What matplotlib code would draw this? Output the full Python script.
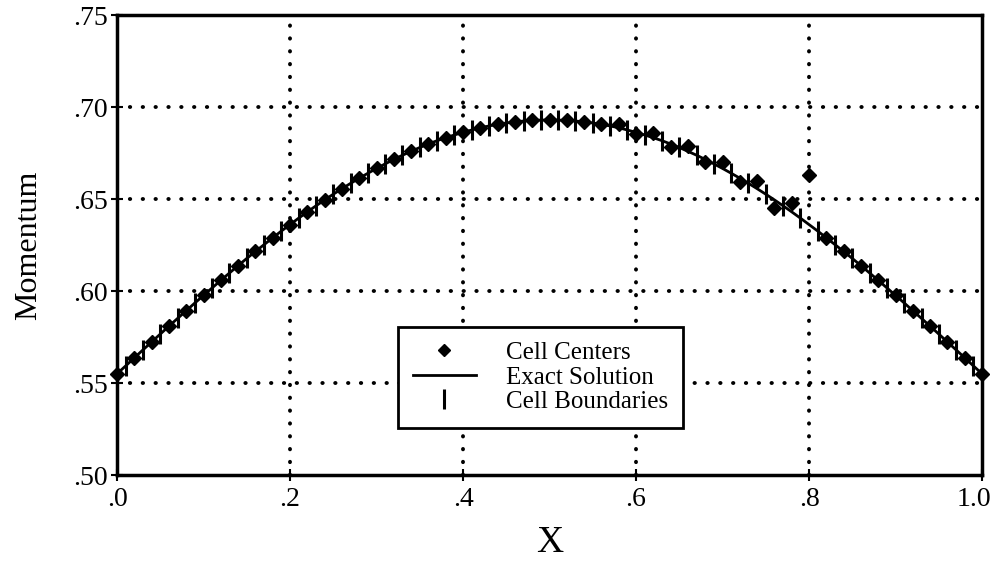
import numpy as np
import matplotlib.pyplot as plt
from matplotlib.transforms import offset_copy

plt.rcParams['font.family'] = ['Liberation Serif', 'DejaVu Serif']

# Exact solution sampled every 0.01 in x
x_exact = np.linspace(0.0, 1.0, 101)
u_exact = [0.5550, 0.5593, 0.5637, 0.5680, 0.5723, 0.5766, 0.5809, 0.5851, 0.5893, 0.5935,
           0.5976, 0.6017, 0.6058, 0.6098, 0.6138, 0.6177, 0.6215, 0.6252, 0.6289, 0.6326,
           0.6361, 0.6396, 0.6430, 0.6463, 0.6495, 0.6526, 0.6556, 0.6585, 0.6613, 0.6640,
           0.6666, 0.6691, 0.6715, 0.6738, 0.6759, 0.6780, 0.6799, 0.6817, 0.6833, 0.6848,
           0.6862, 0.6875, 0.6887, 0.6897, 0.6906, 0.6913, 0.6919, 0.6924, 0.6927, 0.6929,
           0.6930,
           0.6929, 0.6927, 0.6924, 0.6919, 0.6913, 0.6906, 0.6897, 0.6887, 0.6875, 0.6862,
           0.6848, 0.6833, 0.6817, 0.6799, 0.6780, 0.6759, 0.6738, 0.6715, 0.6691, 0.6666,
           0.6640, 0.6613, 0.6585, 0.6556, 0.6526, 0.6495, 0.6463, 0.6430, 0.6396, 0.6361,
           0.6326, 0.6289, 0.6252, 0.6215, 0.6177, 0.6138, 0.6098, 0.6058, 0.6017, 0.5976,
           0.5935, 0.5893, 0.5851, 0.5809, 0.5766, 0.5723, 0.5680, 0.5637, 0.5593, 0.5550]

# Cell boundaries (odd hundredths) and their values on the exact curve
x_bound = np.linspace(0.01, 0.99, 50)
u_bound = u_exact[1::2]

# Cell centers: computed momentum, oscillating near x = 0.6 - 0.8
x_cent = np.linspace(0.0, 1.0, 51)
u_cent = [0.5550, 0.5637, 0.5723, 0.5809, 0.5893, 0.5976, 0.6058, 0.6138, 0.6215, 0.6289,
          0.6361, 0.6430, 0.6495, 0.6556, 0.6613, 0.6666, 0.6715, 0.6759, 0.6799, 0.6833,
          0.6862, 0.6887, 0.6906, 0.6919, 0.6927, 0.6930, 0.6927, 0.6919, 0.6906, 0.6905,
          0.6855, 0.6860, 0.6780, 0.6790, 0.6700, 0.6700, 0.6590, 0.6600, 0.6450, 0.6480,
          0.6630, 0.6289, 0.6215, 0.6138, 0.6058, 0.5976, 0.5893, 0.5809, 0.5723, 0.5637,
          0.5550]

xticks = [0.0, 0.2, 0.4, 0.6, 0.8, 1.0]
xlabels = ['.0', '.2', '.4', '.6', '.8', '1.0']
yticks = [0.50, 0.55, 0.60, 0.65, 0.70, 0.75]
ylabels = ['.50', '.55', '.60', '.65', '.70', '.75']

fig = plt.figure(figsize=(9.96, 5.62), dpi=100)
ax = fig.add_axes([0.1175, 0.1548, 0.8685, 0.8185])

ax.plot(x_cent, u_cent, linestyle='none', marker='D', ms=7, color='black',
        label='Cell Centers', zorder=4, clip_on=False)
ax.plot(x_exact, u_exact, color='black', lw=2, label='Exact Solution', zorder=3)
ax.plot(x_bound, u_bound, linestyle='none', marker='|', ms=14, mew=2.2, color='black',
        label='Cell Boundaries', zorder=3)

ax.set_xlim(0, 1)
ax.set_ylim(0.5, 0.75)
ax.set_xticks(xticks)
ax.set_xticklabels(xlabels)
ax.set_yticks(yticks)
ax.set_yticklabels(ylabels)
ax.tick_params(direction='inout', length=9, width=1.5, labelsize=20, pad=2)
ax.tick_params(axis='x', pad=4)

# keep "1.0" inside the figure: right-align it just past the last tick
last = ax.get_xticklabels()[-1]
last.set_horizontalalignment('right')
last.set_transform(offset_copy(last.get_transform(), fig=fig, x=9, units='dots'))

# dotted grid at the interior ticks only
for v in xticks[1:-1]:
    ax.axvline(v, color='black', lw=2.8, linestyle=(0, (0.1, 3.2)),
               dash_capstyle='round', zorder=1)
for v in yticks[1:-1]:
    ax.axhline(v, color='black', lw=2.8, linestyle=(0, (0.1, 3.2)),
               dash_capstyle='round', zorder=1)

for s in ax.spines.values():
    s.set_linewidth(2.5)

ax.set_xlabel('X', fontsize=27, labelpad=10)
ax.set_ylabel('Momentum', fontsize=23, labelpad=22)

leg = ax.legend(loc='lower left', bbox_to_anchor=(0.325, 0.102), fontsize=18,
                frameon=True, fancybox=False, handlelength=2.5, handletextpad=1.2,
                labelspacing=0.08, borderpad=0.6, borderaxespad=0)
leg.get_frame().set_edgecolor('black')
leg.get_frame().set_linewidth(2)
leg.get_frame().set_alpha(1)
leg.set_zorder(5)
leg.legend_handles[0].set_markersize(6.5)

plt.savefig('out.png', dpi=100)
